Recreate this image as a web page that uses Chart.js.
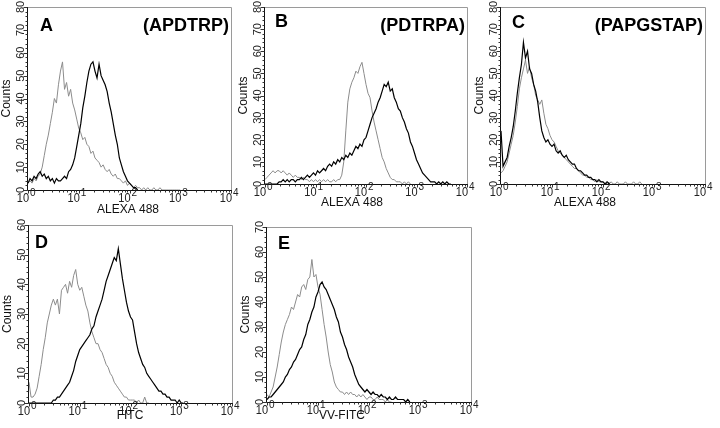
<!DOCTYPE html>
<html>
<head>
<meta charset="utf-8">
<script src="https://cdn.jsdelivr.net/npm/chart.js@4.4.1/dist/chart.umd.min.js"></script>
<style>
  html, body { margin: 0; padding: 0; background: #fff; }
  #wrap { position: relative; width: 720px; height: 428px; }
  #wrap canvas { position: absolute; left: 0; top: 0; }
</style>
</head>
<body>
<div id="wrap">
  <canvas id="pA" width="720" height="428"></canvas>
  <canvas id="pB" width="720" height="428"></canvas>
  <canvas id="pC" width="720" height="428"></canvas>
  <canvas id="pD" width="720" height="428"></canvas>
  <canvas id="pE" width="720" height="428"></canvas>
</div>
<script>
// x is a channel number: 25 channels per decade, channel 0 = 10^0, channel 100 = 10^4
const decadeChannels = [0, 25, 50, 75, 100];
const decadeLabels = ["0", "1", "2", "3", "4"];

// counts per channel (gray = control, black = stained)
const grayA = [3,4,3,5,4,6,7,10,15,20,24,29,34,40,38,46,52,56,44,47,41,44,38,35,31,27,25,22,23,20,
  19,16,17,14,13,12,10,11,9,8,9,7,6,7,5,5,4,3,4,2,3,2,1,2,1,1,0,1,0,1,0,0,1,0,0,1,0,0,0,0,0,0,0,0,0,0];
const blackA = [3,5,4,6,5,7,8,6,7,5,6,4,5,3,5,4,4,5,6,5,8,9,11,14,19,24,29,36,41,47,
  52,55,56,52,49,55,50,48,46,43,38,34,29,24,20,14,11,8,6,4,3,2,1,1,0];

const grayB = [2,3,4,5,6,5,6,6,5,6,5,4,5,4,3,4,3,3,2,3,2,2,1,2,1,2,1,2,1,2,
  1,2,1,1,2,1,2,2,4,10,24,37,43,46,48,51,50,53,55,50,45,41,39,33,28,24,20,16,12,10,
  7,5,3,2,2,1,1,1,0,1,0,1,0];
const blackB = [0,0,0,0,0,0,0,1,1,2,1,2,1,2,2,1,2,2,3,2,3,4,3,4,5,4,6,5,6,7,
  6,8,9,8,10,9,11,10,12,11,13,12,14,13,15,17,16,18,17,20,21,24,27,30,32,34,37,39,42,45,
  44,46,42,43,39,37,34,33,30,28,25,23,19,17,14,11,9,7,5,4,3,2,1,1,1,0,1,0,1,0,1,0,0];

const grayC = [5,6,8,10,14,18,22,28,35,43,48,52,56,50,53,48,45,40,38,36,38,32,27,25,22,20,19,17,15,14,
  13,12,11,10,9,8,7,7,6,5,4,4,3,3,2,2,1,2,1,1,1,0,1,0,1,0,0,1,0,0,0,1,0,0,0,1,0,0,1,0];
const blackC = [24,8,10,12,17,21,26,33,41,48,54,64,57,60,52,50,45,42,37,30,24,21,19,20,18,17,18,15,14,15,
  13,12,13,11,10,9,9,7,6,6,5,4,4,3,3,2,2,1,2,1,1,0,1,0];

const grayD = [7,2,2,3,5,9,13,18,22,27,30,33,35,33,35,30,38,39,40,37,41,39,43,45,40,38,39,36,33,31,
  27,24,22,20,20,18,17,15,13,12,10,9,7,6,5,4,3,2,2,1,1,1,1,0,1,0,0,2,0,0];
const blackD = [0,0,0,0,0,0,0,0,0,0,0,0,1,1,2,2,3,4,5,6,7,9,11,14,16,18,19,20,21,22,
  23,25,26,29,31,33,35,38,41,43,45,47,49,48,52,47,42,38,34,31,29,28,24,20,17,15,13,12,10,9,
  8,7,6,5,4,4,3,3,2,2,1,1,1,0,1,0,0];

const grayE = [3,2,4,6,10,14,19,24,28,31,33,35,38,37,40,43,42,46,47,45,49,50,57,50,51,46,43,37,31,26,
  20,15,12,8,6,5,4,4,3,4,3,4,3,3,2,3,2,3,2,1,2,2,1,1,2,1,1,1,0,1,0,0];
const blackE = [1,2,2,3,4,5,6,7,8,10,11,13,14,16,17,19,21,22,25,27,31,33,36,38,42,44,47,48,46,45,
  43,41,39,37,34,32,28,26,23,21,18,16,14,11,9,7,6,5,4,5,4,3,4,3,3,2,3,2,2,1,
  2,1,1,2,1,1,1,1,0,1,0];

const panels = [
  { id: "pA", letter: "A", tag: "(APDTRP)", xTitle: "ALEXA 488", yMax: 80, gray: grayA, black: blackA,
    box: [28, 7, 231, 190], letterPos: [40, 31], tagY: 31, xTitleX: 128, xTitleY: 213 },
  { id: "pB", letter: "B", tag: "(PDTRPA)", xTitle: "ALEXA 488", yMax: 80, gray: grayB, black: blackB,
    box: [265, 7, 467, 184], letterPos: [275, 27], tagY: 31, xTitleX: 352, xTitleY: 206 },
  { id: "pC", letter: "C", tag: "(PAPGSTAP)", xTitle: "ALEXA 488", yMax: 80, gray: grayC, black: blackC,
    box: [501, 7, 705, 184], letterPos: [512, 28], tagY: 31, xTitleX: 585, xTitleY: 206 },
  { id: "pD", letter: "D", tag: "", xTitle: "FITC", yMax: 60, gray: grayD, black: blackD,
    box: [29, 225, 232, 403], letterPos: [35, 248], tagY: 0, xTitleX: 130, xTitleY: 419 },
  { id: "pE", letter: "E", tag: "", xTitle: "VV-FITC", yMax: 70, gray: grayE, black: blackE,
    box: [267, 227, 471, 402], letterPos: [278, 249], tagY: 0, xTitleX: 342, xTitleY: 419 }
];

const FONT = "'Liberation Sans', Arial, Helvetica, sans-serif";

// frame, ticks and all text of one panel
const frame = {
  id: "frame",
  afterDatasetsDraw(chart, args, p) {
    const ctx = chart.ctx;
    const { left, top, right, bottom } = chart.chartArea;
    const xs = chart.scales.x, ys = chart.scales.y;
    ctx.save();
    ctx.lineWidth = 1;

    // top and right edges in gray
    ctx.strokeStyle = "#9a9a9a";
    ctx.beginPath();
    ctx.moveTo(left, top + 0.5); ctx.lineTo(right + 0.5, top + 0.5);
    ctx.lineTo(right + 0.5, bottom);
    ctx.stroke();

    // left and bottom axes in black
    ctx.strokeStyle = "#111";
    ctx.beginPath();
    ctx.moveTo(left - 0.5, top); ctx.lineTo(left - 0.5, bottom + 0.5);
    ctx.lineTo(right + 1, bottom + 0.5);
    ctx.stroke();

    // y ticks: minor every 2, major every 10
    ctx.strokeStyle = "#333";
    ctx.beginPath();
    for (let v = 0; v <= p.yMax; v += 2) {
      const y = Math.round(ys.getPixelForValue(v)) + 0.5;
      const len = v % 10 === 0 ? 4 : 2;
      ctx.moveTo(left - 0.5, y); ctx.lineTo(left - 0.5 - len, y);
    }
    // x ticks: decades plus log minors
    for (let d = 0; d < 4; d++) {
      for (let m = 1; m <= 9; m++) {
        const ch = decadeChannels[d] + 25 * Math.log10(m);
        const x = Math.round(xs.getPixelForValue(ch)) + 0.5;
        ctx.moveTo(x, bottom + 0.5); ctx.lineTo(x, bottom + 0.5 + (m === 1 ? 3 : 2));
      }
    }
    const xe = Math.round(xs.getPixelForValue(100)) + 0.5;
    ctx.moveTo(xe, bottom + 0.5); ctx.lineTo(xe, bottom + 3.5);
    ctx.stroke();

    ctx.fillStyle = "#222";
    // y tick labels, rotated
    ctx.font = "11px " + FONT;
    ctx.textAlign = "center";
    ctx.textBaseline = "alphabetic";
    for (let v = 0; v <= p.yMax; v += 10) {
      const y = ys.getPixelForValue(v);
      ctx.save();
      ctx.translate(left - 4, y);
      ctx.rotate(-Math.PI / 2);
      ctx.fillText(String(v), 0, 0);
      ctx.restore();
    }
    // x tick labels 10^n
    decadeChannels.forEach((ch, i) => {
      const x = xs.getPixelForValue(ch);
      ctx.save();
      ctx.font = "12.5px " + FONT;
      ctx.textAlign = "right";
      ctx.translate(x + 1, bottom + 12);
      ctx.scale(0.88, 1);
      ctx.fillText("10", 0, 0);
      ctx.restore();
      ctx.font = "10px " + FONT;
      ctx.textAlign = "left";
      ctx.fillText(decadeLabels[i], x + 2, bottom + 6);
    });

    // axis titles
    ctx.fillStyle = "#111";
    ctx.font = "12px " + FONT;
    ctx.textAlign = "center";
    ctx.fillText(p.xTitle, p.xTitleX, p.xTitleY);
    ctx.save();
    ctx.translate(left - 18, (top + bottom) / 2);
    ctx.rotate(-Math.PI / 2);
    ctx.font = "12px " + FONT;
    ctx.fillText("Counts", 0, 0);
    ctx.restore();

    // panel letter and peptide
    ctx.fillStyle = "#000";
    ctx.font = "bold 18px " + FONT;
    ctx.textAlign = "left";
    ctx.fillText(p.letter, p.letterPos[0], p.letterPos[1]);
    if (p.tag) {
      ctx.textAlign = "right";
      ctx.fillText(p.tag, right - 2, p.tagY);
    }
    ctx.restore();
  }
};

panels.forEach(p => {
  const [l, t, r, b] = p.box;
  new Chart(document.getElementById(p.id), {
    type: "line",
    data: {
      datasets: [
        {
          data: p.black.map((v, i) => ({ x: i, y: v })),
          borderColor: "#000",
          borderWidth: 1.2,
          pointRadius: 0,
          tension: 0
        },
        {
          data: p.gray.map((v, i) => ({ x: i, y: v })),
          borderColor: "#8c8c8c",
          borderWidth: 1,
          pointRadius: 0,
          tension: 0
        }
      ]
    },
    options: {
      responsive: false,
      animation: false,
      events: [],
      layout: { padding: { left: l, top: t, right: 720 - r, bottom: 428 - b } },
      plugins: { legend: { display: false }, tooltip: { enabled: false }, frame: p },
      scales: {
        x: { type: "linear", min: 0, max: 100, display: false },
        y: { min: 0, max: p.yMax, display: false }
      }
    },
    plugins: [frame]
  });
});
</script>
</body>
</html>
